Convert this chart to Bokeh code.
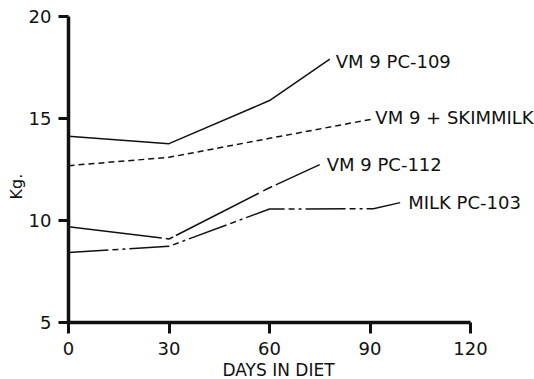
from bokeh.plotting import figure
from bokeh.models import FixedTicker, Range1d, Title
from bokeh.embed import file_html
from bokeh.resources import INLINE
from bokeh.core.properties import value

# ---- data ----
days_pc109 = [0, 30, 60, 78]
kg_pc109 = [14.12, 13.76, 15.87, 17.9]
days_skim = [0, 30, 60, 91]
kg_skim = [12.68, 13.09, 14.02, 14.97]
days_pc112 = [0, 30, 60, 75]
kg_pc112 = [9.69, 9.09, 11.6, 12.73]
days_milk = [0, 30, 60, 91, 99]
kg_milk = [8.43, 8.73, 10.56, 10.57, 10.87]
series_names = ["VM 9 PC-109", "VM 9 + SKIMMILK", "VM 9 PC-112", "MILK PC-103"]
x_ticks = [0, 30, 60, 90, 120]
y_ticks = [5, 10, 15, 20]
x_title = "DAYS IN DIET"
y_title = "Kg."

FONT = "DejaVu Sans"
INK = "#111111"

p = figure(width=534, height=379, output_backend="svg", toolbar_location=None,
           x_range=Range1d(0, 139.1), y_range=Range1d(5, 20.77),
           min_border_left=68, min_border_right=0, min_border_top=0,
           min_border_bottom=57)
p.outline_line_color = None
p.xgrid.visible = False
p.ygrid.visible = False
p.background_fill_color = "white"
p.border_fill_color = "white"

for ax in (p.xaxis[0], p.yaxis[0]):
    ax.axis_line_width = 3.5
    ax.axis_line_color = INK
    ax.major_tick_line_width = 3
    ax.major_tick_line_color = INK
    ax.minor_tick_line_color = None
    ax.major_tick_in = 0
    ax.major_label_text_font = FONT
    ax.major_label_text_font_size = "18px"
    ax.major_label_text_color = INK

xa = p.xaxis[0]
xa.ticker = FixedTicker(ticks=x_ticks)
xa.bounds = (x_ticks[0], x_ticks[-1])
xa.major_tick_out = 11
xa.major_label_standoff = 8

ya = p.yaxis[0]
ya.ticker = FixedTicker(ticks=y_ticks)
ya.bounds = (y_ticks[0], y_ticks[-1])
ya.major_tick_out = 10
ya.major_label_standoff = 7

# axis titles, placed as in the original (slightly off-centre)
p.add_layout(Title(text=x_title, align="left", offset=154, standoff=0,
                   text_font=FONT, text_font_size="17px",
                   text_font_style="normal", text_color=INK), "below")
p.add_layout(Title(text=y_title, align="left", offset=123, standoff=0,
                   text_font=FONT, text_font_size="16px",
                   text_font_style="normal", text_color=INK), "left")

p.line(days_pc109, kg_pc109, line_color=INK, line_width=1.5)
p.line(days_skim, kg_skim, line_color=INK, line_width=1.5, line_dash="6 4")
p.line(days_pc112, kg_pc112, line_color=INK, line_width=1.5,
       line_dash="94 4 8 3 93 5 10 4 100 1")
p.line(days_milk, kg_milk, line_color=INK, line_width=1.5,
       line_dash="40 4 6 4 3 4")

# series labels at the end of each line
ends_x = [days_pc109[-1], days_skim[-1], days_pc112[-1], days_milk[-1]]
ends_y = [kg_pc109[-1], kg_skim[-1], kg_pc112[-1], kg_milk[-1]]
label_dx = [6, 2, 7, 8]
label_dy = [2, -1, 0, 0]
for xv, yv, name, dx, dy in zip(ends_x, ends_y, series_names, label_dx, label_dy):
    p.text(x=[xv], y=[yv], text=[name], x_offset=dx, y_offset=dy,
           text_font=value(FONT), text_font_size="18px", text_color=INK,
           text_align="left", text_baseline="middle")

open("out.html", "w").write(file_html(p, INLINE))
